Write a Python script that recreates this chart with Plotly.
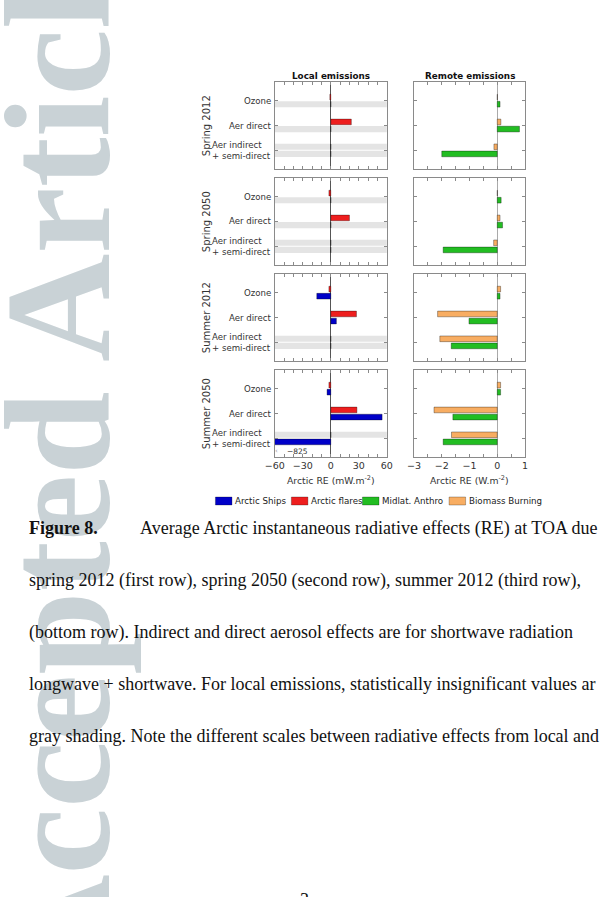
import plotly.graph_objects as go

W, H = 605, 897

# ---------------- data ----------------
seasons = ["Spring 2012", "Spring 2050", "Summer 2012", "Summer 2050"]
categories = ["Ozone", "Aer direct", "Aer indirect<br>+ semi-direct"]
cat_pos = [1, 2, 3]
series_names = ["Arctic Ships", "Arctic flares", "Midlat. Anthro", "Biomass Burning"]
series_colors = ["#0000c8", "#ee1e1e", "#22bd22", "#f8ad62"]

# Local emissions (mW m-2): rows = seasons, columns = categories
ships = [[0, 0, 0], [0, 0, 0], [-15, 6, 0], [-4, 55, -825]]
flares = [[-1, 22, 0], [-2, 20, 0], [-2, 27.5, 0], [-2, 28, 0]]
# statistically insignificant values (gray shading), local emissions only
ships_insig = [[1, 1, 1], [1, 1, 1], [0, 0, 1], [0, 0, 0]]
flares_insig = [[0, 0, 1], [0, 0, 1], [0, 0, 1], [0, 0, 1]]

# Remote emissions (W m-2)
midlat = [[0.1, 0.8, -2.0], [0.14, 0.19, -1.95], [0.1, -1.02, -1.66], [0.12, -1.6, -1.95]]
biomass = [[0.005, 0.13, -0.12], [0.005, 0.1, -0.13], [0.12, -2.15, -2.07], [0.12, -2.28, -1.65]]

local_ticks = [-60, -30, 0, 30, 60]
local_tick_labels = ["\u221260", "\u221230", "0", "30", "60"]
local_minor_ticks = [-50, -40, -20, -10, 10, 20, 40, 50]
remote_ticks = [-3, -2, -1, 0, 1]
remote_tick_labels = ["\u22123", "\u22122", "\u22121", "0", "1"]
remote_minor_ticks = [-2.5, -1.5, -0.5, 0.5]

col_titles = ["Local emissions", "Remote emissions"]
x_titles = ["Arctic RE (mW.m<sup>-2</sup>)", "Arctic RE (W.m<sup>-2</sup>)"]

caption_lines = [
    "spring 2012 (first row), spring 2050 (second row), summer 2012 (third row),",
    "(bottom row). Indirect and direct aerosol effects are for shortwave radiation",
    "longwave + shortwave. For local emissions, statistically insignificant values ar",
    "gray shading. Note the different scales between radiative effects from local and",
]
caption_head = "Figure 8."
caption_first = "Average Arctic instantaneous radiative effects (RE) at TOA due"

# ---------------- layout geometry ----------------
def px(x):
    return x / W

def py(y):
    return 1 - y / H

col_x = [(272, 387), (415, 529)]
row_tops = [82, 178, 274, 370]
row_h = 87
SANS = "DejaVu Sans"
SERIF = "Liberation Serif"

UP_OFF, LO_OFF, BW = -0.257, 0.029, 0.229

fig = go.Figure()
layout = {}
shapes = []
annotations = []

# watermark
annotations.append(dict(text="<b>Accepted Article</b>", x=px(49), y=py(452), xref="paper", yref="paper",
                        textangle=-90, showarrow=False, xanchor="center", yanchor="middle",
                        font=dict(family=SERIF, size=150, color="#c9d2d6")))

for r in range(4):
    for c in range(2):
        idx = r * 2 + c + 1
        xa = "x" if idx == 1 else f"x{idx}"
        ya = "y" if idx == 1 else f"y{idx}"
        xkey = "xaxis" if idx == 1 else f"xaxis{idx}"
        ykey = "yaxis" if idx == 1 else f"yaxis{idx}"
        bottom = (r == 3)
        if c == 0:
            lower_vals, upper_vals = ships[r], flares[r]
            lower_name, upper_name = series_names[0], series_names[1]
            lower_col, upper_col = series_colors[0], series_colors[1]
            ticks, ticktext, minor, rng = local_ticks, local_tick_labels, local_minor_ticks, [-60, 60]
            zcol = "#555555"
        else:
            lower_vals, upper_vals = midlat[r], biomass[r]
            lower_name, upper_name = series_names[2], series_names[3]
            lower_col, upper_col = series_colors[2], series_colors[3]
            ticks, ticktext, minor, rng = remote_ticks, remote_tick_labels, remote_minor_ticks, [-3, 1]
            zcol = "#aaaaaa"

        for vals, name, col, off in [(upper_vals, upper_name, upper_col, UP_OFF),
                                     (lower_vals, lower_name, lower_col, LO_OFF)]:
            fig.add_trace(go.Bar(
                x=vals, y=cat_pos, orientation="h", name=name, showlegend=False,
                offset=off, width=BW, xaxis=xa, yaxis=ya,
                marker=dict(color=col, line=dict(color="rgba(0,0,0,0.55)", width=0.6)),
                hovertemplate="%{x}<extra>" + name + "</extra>"))

        # gray shading for insignificant local values
        if c == 0:
            for k in range(3):
                if flares_insig[r][k]:
                    shapes.append(dict(type="rect", xref=f"{xa} domain", yref=ya, x0=0, x1=1,
                                       y0=cat_pos[k] - 0.27, y1=cat_pos[k] - 0.02,
                                       fillcolor="#e4e4e4", line_width=0, layer="below"))
                if ships_insig[r][k]:
                    shapes.append(dict(type="rect", xref=f"{xa} domain", yref=ya, x0=0, x1=1,
                                       y0=cat_pos[k] + 0.02, y1=cat_pos[k] + 0.27,
                                       fillcolor="#e4e4e4", line_width=0, layer="below"))
                # category labels
                annotations.append(dict(text=categories[k], x=px(270), y=cat_pos[k], xref="paper", yref=ya,
                                        xanchor="right", yanchor="middle", align="left", showarrow=False,
                                        font=dict(family=SANS, size=8.6, color="#333333")))

        x0, x1 = col_x[c]
        top = row_tops[r]
        layout[xkey] = dict(domain=[px(x0), px(x1)], range=rng, anchor=ya,
                            tickvals=ticks, ticktext=ticktext, showticklabels=bottom, tickangle=0,
                            ticks="inside", ticklen=3, tickcolor="#8a8a8a", tickwidth=1,
                            minor=dict(tickvals=minor, ticks="inside", ticklen=3, tickcolor="#8a8a8a",
                                       tickwidth=1, showgrid=False),
                            showline=True, linecolor="#8a8a8a", linewidth=1, mirror="ticks",
                            zeroline=True, zerolinecolor=zcol, zerolinewidth=1, showgrid=False,
                            tickfont=dict(family=SANS, size=9.5, color="#333333"), fixedrange=True)
        layout[ykey] = dict(domain=[py(top + row_h), py(top)], range=[3.75, 0.25], anchor=xa,
                            tickvals=cat_pos, showticklabels=False,
                            ticks="inside", ticklen=3, tickcolor="#8a8a8a", tickwidth=1,
                            showline=True, linecolor="#8a8a8a", linewidth=1, mirror="ticks",
                            zeroline=False, showgrid=False, fixedrange=True)

    # row title
    annotations.append(dict(text=seasons[r], x=px(202), y=py(row_tops[r] + row_h / 2), xref="paper", yref="paper",
                            textangle=-90, showarrow=False, xanchor="center", yanchor="middle",
                            font=dict(family=SANS, size=10, color="#333333")))

# value label for off-scale bar (Summer 2050, ships, aer indirect)
annotations.append(dict(text=f"{ships[3][2]}".replace("-", "\u2212"), x=-49, y=3.52, xref="x7", yref="y7",
                        xanchor="left", yanchor="middle", align="left", showarrow=False,
                        font=dict(family=SANS, size=7.5, color="#333333")))
annotations.append(dict(text="\u2039", x=-58, y=3.52, xref="x7", yref="y7",
                        xanchor="center", yanchor="middle", showarrow=False,
                        font=dict(family=SANS, size=7, color="#999999")))

# column titles and x titles
for c in range(2):
    xc = px(sum(col_x[c]) / 2)
    annotations.append(dict(text=f"<b>{col_titles[c]}</b>", x=xc, y=py(76), xref="paper", yref="paper",
                            xanchor="center", yanchor="middle", showarrow=False,
                            font=dict(family=SANS, size=8.8, color="#111111")))
    annotations.append(dict(text=x_titles[c], x=xc, y=py(480), xref="paper", yref="paper",
                            xanchor="center", yanchor="middle", showarrow=False,
                            font=dict(family=SANS, size=9.3, color="#333333")))

# legend (manual, compact like the original)
leg_sw = [211, 289, 362, 451]
for i, name in enumerate(series_names):
    shapes.append(dict(type="rect", xref="paper", yref="paper", x0=px(leg_sw[i]), x1=px(leg_sw[i] + 17),
                       y0=py(505), y1=py(497), fillcolor=series_colors[i],
                       line=dict(color="rgba(0,0,0,0.45)", width=0.6)))
    annotations.append(dict(text=name, x=px(leg_sw[i] + 18), y=py(501), xref="paper", yref="paper",
                            xanchor="left", yanchor="middle", align="left", showarrow=False,
                            font=dict(family=SANS, size=8.7, color="#222222")))

# caption
CAP = 18.0
annotations.append(dict(text=f"<b>{caption_head}</b>", x=px(17), y=py(528), xref="paper", yref="paper",
                        xanchor="left", yanchor="middle", align="left", showarrow=False,
                        font=dict(family=SERIF, size=CAP, color="#111111")))
annotations.append(dict(text=caption_first, x=px(131), y=py(528), xref="paper", yref="paper",
                        xanchor="left", yanchor="middle", align="left", showarrow=False,
                        font=dict(family=SERIF, size=CAP, color="#111111")))
for i, line in enumerate(caption_lines):
    annotations.append(dict(text=line, x=px(17), y=py(580 + 52 * i), xref="paper", yref="paper",
                            xanchor="left", yanchor="middle", align="left", showarrow=False,
                            font=dict(family=SERIF, size=CAP, color="#111111")))
annotations.append(dict(text="3", x=px(302), y=py(888), xref="paper", yref="paper",
                        xanchor="center", yanchor="top", showarrow=False,
                        font=dict(family=SERIF, size=CAP, color="#111111")))

fig.update_layout(**layout)
fig.update_layout(width=W, height=H, margin=dict(l=0, r=0, t=0, b=0), autosize=False,
                  paper_bgcolor="white", plot_bgcolor="white", showlegend=False,
                  barmode="overlay", shapes=shapes, annotations=annotations)

fig.write_html("out.html")
